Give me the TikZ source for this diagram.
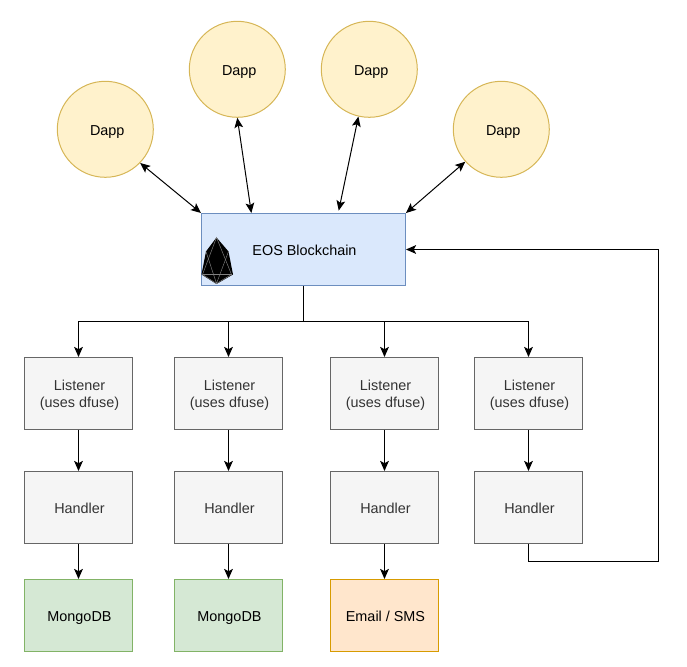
\documentclass[tikz,border=0pt]{standalone}
\usepackage{fontspec}
\setmainfont{Liberation Sans}
\usepackage{xcolor}
\usepackage{tikz}
\usetikzlibrary{
  positioning,
  arrows.meta
}
\definecolor{dappfill}{HTML}{FFF2CC}
\definecolor{dappline}{HTML}{D6B656}
\definecolor{chainfill}{HTML}{DAE8FC}
\definecolor{chainline}{HTML}{6C8EBF}
\definecolor{workfill}{HTML}{F5F5F5}
\definecolor{workline}{HTML}{666666}
\definecolor{worktext}{HTML}{333333}
\definecolor{dbfill}{HTML}{D5E8D4}
\definecolor{dbline}{HTML}{82B366}
\definecolor{notifyfill}{HTML}{FFE6CC}
\definecolor{notifyline}{HTML}{D79B00}
\newcommand{\dapplabel}{\hspace*{3pt}Dapp}
\newcommand{\boxtext}[2][4.5pt]{\hspace*{1.5pt}\raisebox{0pt}[\dimexpr\height+#1\relax]{\begin{tabular}{@{}c@{}}#2\end{tabular}}}
\tikzset{
  base/.style={draw, line width=0.75pt, align=center, inner sep=0pt, font=\fontsize{10.8}{13}\selectfont},
  dapp/.style={base, circle, minimum size=72pt, fill=dappfill, draw=dappline, text height=11.4pt, text depth=2.3pt},
  chain/.style={base, rectangle, minimum width=153pt, minimum height=54pt, fill=chainfill, draw=chainline},
  worker/.style={base, rectangle, minimum width=81pt, minimum height=54pt, fill=workfill, draw=workline, text=worktext},
  store/.style={base, rectangle, minimum width=81pt, minimum height=54pt, fill=dbfill, draw=dbline},
  notify/.style={store, fill=notifyfill, draw=notifyline},
  link/.style={line width=0.75pt, -{Stealth[length=7.5pt, width=6.5pt, inset=1.6pt]}},
  twoway/.style={line width=0.75pt, {Stealth[length=7.5pt, width=6.5pt, inset=1.6pt]}-{Stealth[length=7.5pt, width=6.5pt, inset=1.6pt]}}
}

\begin{document}
\begin{tikzpicture}[x=0.75pt, y=-0.75pt]
      \useasboundingbox (0.5,0.5) rectangle (687.5,667.5);

      % Dapps
      \node[dapp] (dappa) at (105.8,129.8) {\dapplabel};
      \node[dapp] (dappb) at (237.8,69.8) {\dapplabel};
      \node[dapp] (dappc) at (369.8,69.8) {\dapplabel};
      \node[dapp] (dappd) at (501.8,129.8) {\dapplabel};

      % Blockchain
      \node[chain] (eos) at (304,250) {\boxtext{EOS Blockchain}};

      % Logo
      \fill[black] (217,238) -- (229,252) -- (233.5,275) -- (217,284.5) -- (202,275) -- (206.5,252) -- cycle;
      \draw[gray, line width=0.35pt] (217,238) -- (203,275) -- (217,284) -- (232,275) -- cycle;
      \draw[gray, line width=0.35pt] (206.5,252) -- (217,284) -- (229,252);
      \draw[gray, line width=0.35pt] (203,275) -- (232,275);

      % Listeners
      \node[worker] (lista) at (79,394) {\boxtext[2.6pt]{Listener\\(uses dfuse)}};
      \node[worker] (listb) at (229,394) {\boxtext[2.6pt]{Listener\\(uses dfuse)}};
      \node[worker] (listc) at (385,394) {\boxtext[2.6pt]{Listener\\(uses dfuse)}};
      \node[worker] (listd) at (529,394) {\boxtext[2.6pt]{Listener\\(uses dfuse)}};

      % Handlers
      \node[worker] (handa) at (79,508) {\boxtext{Handler}};
      \node[worker] (handb) at (229,508) {\boxtext{Handler}};
      \node[worker] (handc) at (385,508) {\boxtext{Handler}};
      \node[worker] (handd) at (529,508) {\boxtext{Handler}};

      % Outputs
      \node[store] (dba) at (79,616) {\boxtext{MongoDB}};
      \node[store] (dbb) at (229,616) {\boxtext{MongoDB}};
      \node[notify] (mail) at (385,616) {\boxtext{Email / SMS}};

      % Dapp links
      \draw[twoway] (dappa.-44) -- (eos.north west);
      \draw[twoway] (dappb.-90) -- (eos.145);
      \draw[twoway] (dappc.-103) -- ([yshift=1.8pt]eos.46);
      \draw[twoway] (dappd.-138) -- (eos.north east);

      % Chain to listeners
      \coordinate (bus) at (304,322);
      \draw[line width=1.4pt] (eos.south) -- (bus);
      \draw[link] (bus) -| (lista.north);
      \draw[link] (bus) -| (listb.north);
      \draw[link] (bus) -| (listc.north);
      \draw[link] (bus) -| (listd.north);

      % Listeners to handlers
      \draw[link] (lista) -- (handa);
      \draw[link] (listb) -- (handb);
      \draw[link] (listc) -- (handc);
      \draw[link] (listd) -- (handd);

      % Handlers to outputs
      \draw[link] (handa) -- (dba);
      \draw[link] (handb) -- (dbb);
      \draw[link] (handc) -- (mail);

      % Feedback
      \coordinate (back) at (658.5,561.7);
      \draw[link] (handd.south) |- (back) |- (eos.east);
    \end{tikzpicture}
\end{document}
